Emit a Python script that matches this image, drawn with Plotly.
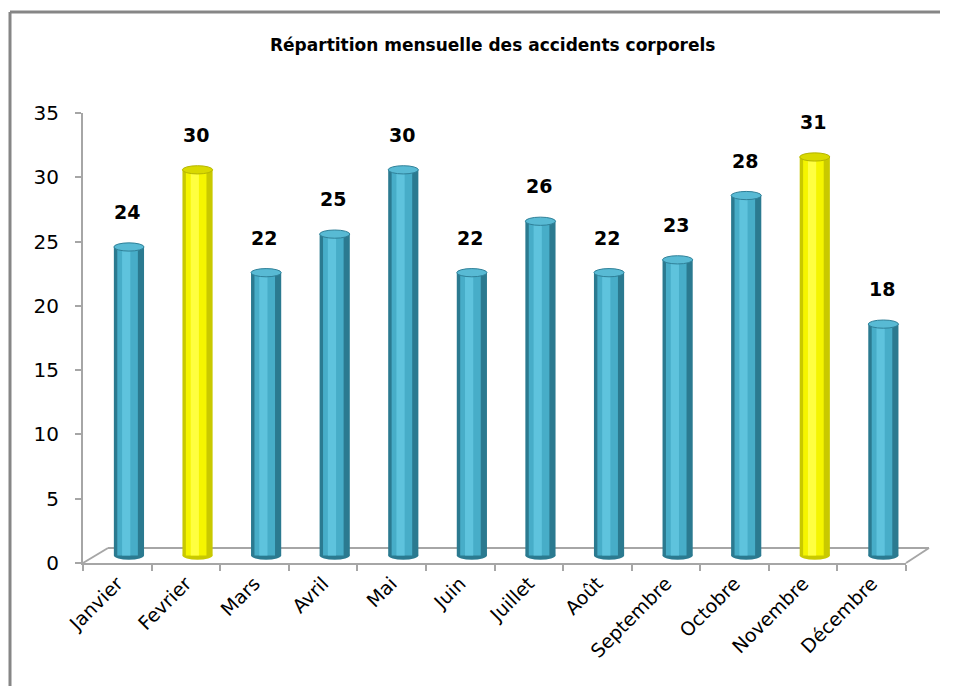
import plotly.graph_objects as go

# ---- data ----
months = ["Janvier", "Fevrier", "Mars", "Avril", "Mai", "Juin", "Juillet",
          "Août", "Septembre", "Octobre", "Novembre", "Décembre"]
accidents = [24, 30, 22, 25, 30, 22, 26, 22, 23, 28, 31, 18]
highlighted = ["Fevrier", "Novembre"]
title_text = "Répartition mensuelle des accidents corporels"
y_ticks = [0, 5, 10, 15, 20, 25, 30, 35]

# ---- style ----
OFF = 8                       # page body margin
W, H = 960 - OFF, 686 - OFF
AX_L, AX_R, AX_T, AX_B = 83, 906, 113, 563   # page-pixel plot box
L, R, T, B = AX_L - OFF, W - (AX_R - OFF), AX_T - OFF, H - (AX_B - OFF)
PW, PH = AX_R - AX_L, AX_B - AX_T
DEPTH = 0.58          # pseudo-3D lift of bars (data units)
SHIFT = 0.17          # pseudo-3D shift of bars (category units)
BW = 0.44             # bar width
GRAY = "#868686"
AXC = "#A6A6A6"

teal = dict(edge="#2B7A90", mid="#47ADC8", hi="#5EC3DD", top="#58BAD4", rim="#2F8098")
yel = dict(edge="#C9C900", mid="#F5F500", hi="#FFFF40", top="#D9D900", rim="#B5B500")


def px(x):
    return (x - AX_L) / PW


def py(y):
    return (AX_B - y) / PH


pal = [yel if m in highlighted else teal for m in months]

fig = go.Figure()
layers = [("edge", BW, 0.0), ("mid", 0.30, 0.05), ("hi", 0.12, 0.12)]
for key, w, off in layers:
    fig.add_trace(go.Bar(
        x=months, y=accidents, base=DEPTH,
        width=w, offset=SHIFT - BW / 2 + off,
        marker=dict(color=[p[key] for p in pal], line=dict(width=0)),
        hoverinfo="skip", showlegend=False,
    ))

shapes = []
annotations = []
for i, (m, v) in enumerate(zip(months, accidents)):
    p = pal[i]
    cx0 = i + SHIFT - BW / 2
    cx1 = i + SHIFT + BW / 2
    shapes.append(dict(type="circle", xref="x", yref="y",
                       x0=cx0, x1=cx1, y0=v + DEPTH - 0.32, y1=v + DEPTH + 0.32,
                       fillcolor=p["top"], line=dict(color=p["rim"], width=1),
                       layer="above"))
    shapes.append(dict(type="circle", xref="x", yref="y",
                       x0=cx0, x1=cx1, y0=DEPTH - 0.32, y1=DEPTH + 0.32,
                       fillcolor=p["edge"], line=dict(width=0),
                       layer="below"))
    annotations.append(dict(x=m, y=v + DEPTH, xref="x", yref="y",
                            text=f"<b>{v}</b>", showarrow=False,
                            xanchor="center", yanchor="bottom",
                            xshift=10, yshift=22,
                            font=dict(family="DejaVu Sans", size=19, color="#000")))

# floor (pseudo 3D)
floor = [((83, 563), (108, 548)), ((108, 548), (929, 548)), ((906, 563), (929, 548))]
for (x0, y0), (x1, y1) in floor:
    shapes.append(dict(type="line", xref="paper", yref="paper",
                       x0=px(x0), y0=py(y0), x1=px(x1), y1=py(y1),
                       line=dict(color=AXC, width=2), layer="below"))
# outer frame: left and top edges visible in the window
frame = [((10, 12), (10, 700)), ((10, 12), (940, 12))]
for (x0, y0), (x1, y1) in frame:
    shapes.append(dict(type="line", xref="paper", yref="paper",
                       x0=px(x0), y0=py(y0), x1=px(x1), y1=py(y1),
                       line=dict(color=GRAY, width=3), layer="below"))

annotations.append(dict(x=px(492), y=py(45), xref="paper", yref="paper",
                        text=title_text, showarrow=False,
                        xanchor="center", yanchor="middle",
                        font=dict(family="DejaVu Sans", size=17, color="#000", weight=600)))

fig.update_layout(
    width=W, height=H,
    margin=dict(l=L, r=R, t=T, b=B, pad=0),
    barmode="overlay",
    paper_bgcolor="white", plot_bgcolor="white",
    shapes=shapes, annotations=annotations,
    showlegend=False,
    font=dict(family="DejaVu Sans", color="#000"),
)
fig.update_xaxes(
    type="category", range=[-0.5, 11.5],
    showline=True, linecolor=AXC, linewidth=2,
    ticks="outside", tickson="boundaries", ticklen=6, tickcolor=AXC, tickwidth=2,
    tickangle=-45, tickfont=dict(size=19, family="DejaVu Sans", color="#000"),
    showgrid=False, zeroline=False,
)
fig.update_yaxes(
    range=[0, 35], tickvals=y_ticks,
    showline=True, linecolor=AXC, linewidth=2,
    ticks="outside", ticklen=6, tickcolor=AXC, tickwidth=2,
    ticklabelstandoff=12,
    tickfont=dict(size=20, family="DejaVu Sans", color="#000"),
    showgrid=False, zeroline=False,
)

fig.write_html("out.html")
